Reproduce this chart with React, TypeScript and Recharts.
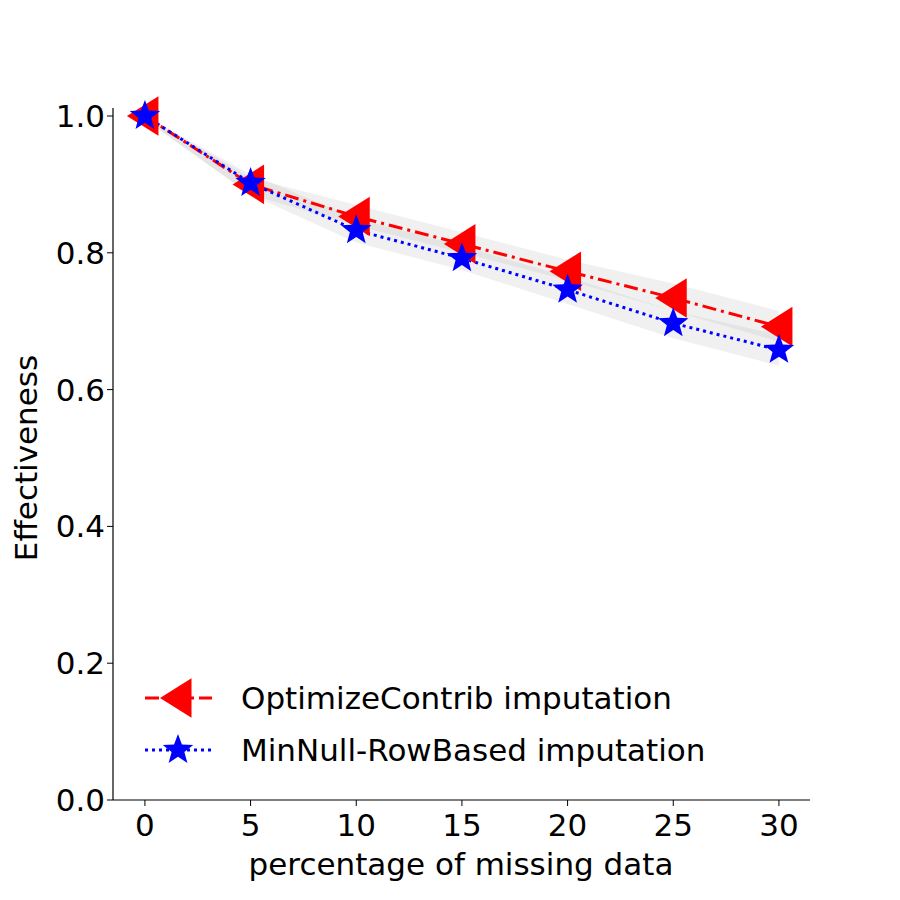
import { ComposedChart, Line, Area, XAxis, YAxis, Customized } from "recharts";

const xs = [0, 5, 10, 15, 20, 25, 30];
const optimize = [1.0, 0.9, 0.853, 0.813, 0.773, 0.734, 0.692];
const optimizeLo = [0.995, 0.885, 0.84, 0.8, 0.76, 0.715, 0.67];
const optimizeHi = [1.0, 0.91, 0.87, 0.83, 0.79, 0.755, 0.715];
const minnull = [1.0, 0.902, 0.833, 0.792, 0.746, 0.697, 0.658];
const minnullLo = [0.995, 0.885, 0.815, 0.775, 0.725, 0.675, 0.635];
const minnullHi = [1.0, 0.915, 0.85, 0.81, 0.765, 0.715, 0.68];
const yTicks = [0, 0.2, 0.4, 0.6, 0.8, 1.0];
const xTicks = [0, 5, 10, 15, 20, 25, 30];

const data = xs.map((x, i) => ({
  x,
  opt: optimize[i],
  optBand: [optimizeLo[i], optimizeHi[i]],
  mn: minnull[i],
  mnBand: [minnullLo[i], minnullHi[i]],
}));

const font = "DejaVu Sans, sans-serif";

function Tri({ cx, cy }: any) {
  if (cx == null) return null;
  const r = 18;
  return (
    <polygon
      points={`${cx - r},${cy} ${cx + r * 0.75},${cy - r * 1.1} ${cx + r * 0.75},${cy + r * 1.1}`}
      fill="red"
    />
  );
}

function Star({ cx, cy }: any) {
  if (cx == null) return null;
  const r = 16;
  const pts: string[] = [];
  for (let k = 0; k < 10; k++) {
    const rr = k % 2 === 0 ? r : r * 0.42;
    const a = -Math.PI / 2 + (k * Math.PI) / 5;
    pts.push(`${cx + rr * Math.cos(a)},${cy + rr * Math.sin(a)}`);
  }
  return <polygon points={pts.join(" ")} fill="blue" />;
}

function Legend() {
  return (
    <g fontFamily={font} fontSize={31} fill="#000">
      <line x1={145} x2={212} y1={698} y2={698} stroke="red" strokeWidth={3} strokeDasharray="14 5 3 5" />
      <Tri cx={178} cy={698} />
      <text x={241} y={709}>OptimizeContrib imputation</text>
      <line x1={145} x2={212} y1={750} y2={750} stroke="blue" strokeWidth={3} strokeDasharray="3 4" />
      <Star cx={178} cy={750} />
      <text x={241} y={761}>MinNull-RowBased imputation</text>
      <text x={461} y={875} textAnchor="middle">percentage of missing data</text>
      <text x={37} y={458} textAnchor="middle" transform="rotate(-90 37 458)">Effectiveness</text>
    </g>
  );
}

export default function App() {
  return (
    <div style={{ position: "absolute", left: 0, top: 0, width: 900, height: 900, background: "#fff" }}>
      <ComposedChart width={900} height={900} data={data} margin={{ top: 108, right: 90, bottom: 0, left: 0 }}>
        <XAxis
          dataKey="x"
          type="number"
          domain={[-1.51, 31.47]}
          ticks={xTicks}
          axisLine={{ stroke: "#000", strokeWidth: 1.2 }}
          tickLine={{ stroke: "#000" }}
          tickSize={6}
          tick={{ fontSize: 31, fill: "#000", fontFamily: font, dy: 6 }}
          height={100}
        />
        <YAxis
          type="number"
          domain={[0, 1.0117]}
          ticks={yTicks}
          tickFormatter={(v: number) => v.toFixed(1)}
          axisLine={{ stroke: "#000", strokeWidth: 1.2 }}
          tickLine={{ stroke: "#000" }}
          tickSize={6}
          tick={{ fontSize: 31, fill: "#000", fontFamily: font }}
          width={113}
        />
        <Area dataKey="optBand" stroke="none" fill="#bbb" fillOpacity={0.22} isAnimationActive={false} />
        <Area dataKey="mnBand" stroke="none" fill="#bbb" fillOpacity={0.22} isAnimationActive={false} />
        <Line dataKey="opt" stroke="red" strokeWidth={3} strokeDasharray="14 5 3 5" dot={<Tri />} isAnimationActive={false} />
        <Line dataKey="mn" stroke="blue" strokeWidth={3} strokeDasharray="3 4" dot={<Star />} isAnimationActive={false} />
        <Customized component={Legend} />
      </ComposedChart>
    </div>
  );
}
